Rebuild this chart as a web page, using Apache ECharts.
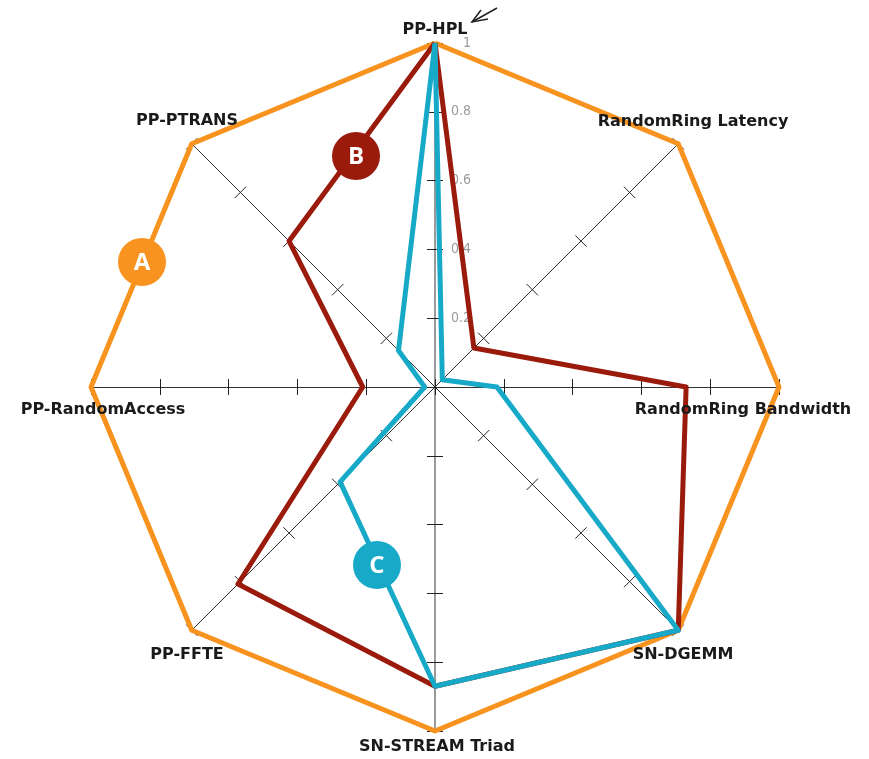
<!DOCTYPE html>
<html lang="en">
<head>
    <meta charset="UTF-8">
    <title>Radar</title>
    <script src="https://cdn.jsdelivr.net/npm/echarts@6.0.0/dist/echarts.min.js"></script>
    <style>
        html, body { margin: 0; padding: 0; background: #fff; }
    </style>
</head>
<body>
<div id="chart" style="width: 869px; height: 759px;"></div>
<script>
    // indicators in counter-clockwise order starting at the top
    const indicators = ['PP-HPL', 'PP-PTRANS', 'PP-RandomAccess', 'PP-FFTE',
        'SN-STREAM Triad', 'SN-DGEMM', 'RandomRing Bandwidth', 'RandomRing Latency'];
    const seriesA = [1, 1, 1, 1, 1, 1, 1, 1];
    const seriesB = [1, 0.60, 0.21, 0.81, 0.87, 1, 0.73, 0.16];
    const seriesC = [1, 0.15, 0.03, 0.39, 0.87, 1, 0.18, 0.03];

    const center = [435, 387];
    const radius = 344;
    const nameFont = 'bold 16px "DejaVu Sans", sans-serif';

    const chart = echarts.init(document.querySelector('#chart'));

    const ind = indicators.map(n => ({ name: n, min: 0, max: 1 }));
    const hidden = { show: false };
    const baseRadar = {
        center: center,
        radius: radius,
        shape: 'polygon',
        splitNumber: 5,
        axisName: hidden,
        splitLine: hidden,
        splitArea: hidden
    };

    const labels = [
        ['PP-HPL', 435, 30],
        ['PP-PTRANS', 187, 121],
        ['RandomRing Latency', 693, 122],
        ['PP-RandomAccess', 103, 410],
        ['RandomRing Bandwidth', 743, 410],
        ['PP-FFTE', 187, 655],
        ['SN-DGEMM', 683, 655],
        ['SN-STREAM Triad', 437, 747]
    ];

    const badges = [
        ['A', 142, 262, '#f7931e'],
        ['B', 356, 156, '#9a1a0c'],
        ['C', 377, 565, '#16a9c8']
    ];

    const graphic = [];
    labels.forEach(l => graphic.push({
        type: 'text', x: l[1], y: l[2], z: 10,
        style: { text: l[0], font: nameFont, fill: '#1a1a1a', align: 'center', verticalAlign: 'middle' }
    }));
    badges.forEach(b => {
        graphic.push({ type: 'circle', shape: { cx: b[1], cy: b[2], r: 24 }, z: 10, style: { fill: b[3] } });
        graphic.push({
            type: 'text', x: b[1], y: b[2] + 1, z: 11,
            style: { text: b[0], font: 'bold 24px "Open Sans", sans-serif', fill: '#fff', align: 'center', verticalAlign: 'middle' }
        });
    });
    // little arrow next to PP-HPL
    graphic.push({ type: 'polyline', z: 10, shape: { points: [[497, 8], [472, 22]] }, style: { stroke: '#222', lineWidth: 1.5, fill: null } });
    graphic.push({ type: 'polyline', z: 10, shape: { points: [[481, 10], [472, 22], [488, 19]] }, style: { stroke: '#222', lineWidth: 1.5, fill: null } });

    const tickStyle = { color: '#222', width: 1 };

    chart.setOption({
        animation: false,
        radar: [
            // main axes, ticks on one side
            Object.assign({}, baseRadar, {
                indicator: ind,
                axisLine: { lineStyle: { color: '#333', width: 1 } },
                axisTick: { show: true, length: 8, lineStyle: tickStyle },
                axisLabel: hidden
            }),
            // same axes, ticks on the other side
            Object.assign({}, baseRadar, {
                indicator: ind,
                axisLine: hidden,
                axisTick: { show: true, length: -8, lineStyle: tickStyle },
                axisLabel: hidden
            }),
            // grey vertical axis
            Object.assign({}, baseRadar, {
                indicator: [{ name: 'a', min: 0, max: 1 }, { name: 'b', min: 0, max: 1 }],
                axisLine: { lineStyle: { color: '#9a9a9a', width: 2 } },
                axisTick: hidden,
                axisLabel: hidden
            }),
            // tick labels on the top axis
            Object.assign({}, baseRadar, {
                indicator: [{ name: 'a', min: 0, max: 1 }],
                axisLine: hidden,
                axisTick: hidden,
                axisLabel: {
                    show: true,
                    color: '#9a9a9a',
                    fontSize: 14,
                    fontFamily: '"Liberation Sans Narrow", "DejaVu Sans Condensed", sans-serif',
                    margin: -36,
                    padding: [8, 0, 0, 0],
                    formatter: v => (v === 0 ? '' : String(v))
                }
            })
        ],
        series: [{
            type: 'radar',
            radarIndex: 0,
            symbol: 'none',
            z: 5,
            data: [
                { name: 'A', value: seriesA, lineStyle: { color: '#f7931e', width: 5 } },
                { name: 'B', value: seriesB, lineStyle: { color: '#9a1a0c', width: 5 } },
                { name: 'C', value: seriesC, lineStyle: { color: '#16a9c8', width: 5 } }
            ]
        }],
        graphic: graphic
    });
</script>
</body>
</html>
